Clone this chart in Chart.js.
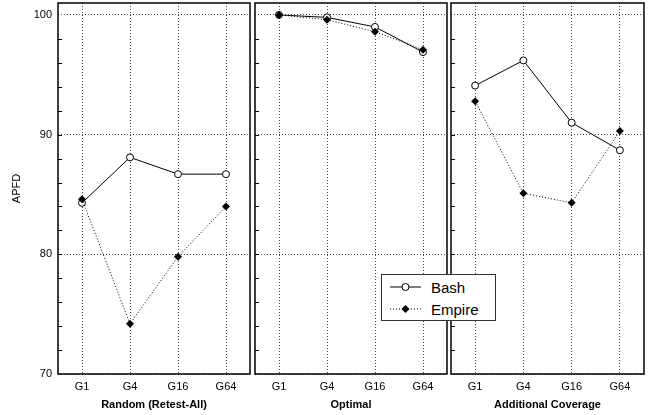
<!DOCTYPE html>
<html>
<head>
<meta charset="utf-8">
<script src="https://cdn.jsdelivr.net/npm/chart.js@4.4.0/dist/chart.umd.min.js"></script>
<style>
  html, body { margin: 0; padding: 0; background: #fff; }
  #wrap { position: relative; width: 652px; height: 415px; font-family: "Liberation Sans", Arial, sans-serif; }
  #wrap canvas { position: absolute; top: 0; }
  #legend { position: absolute; left: 381px; top: 274px; width: 113px; height: 45px; border: 1px solid #333; background: #fff; z-index: 5; }
  #legend .row { position: absolute; left: 0; height: 20px; display: flex; align-items: center; font-size: 15px; color: #000; }
  #legend svg { margin-left: 8px; margin-right: 10px; }
</style>
</head>
<body>
<div id="wrap">
  <canvas id="random" width="252" height="415" style="left:0;width:252px;height:415px"></canvas>
  <canvas id="optimal" width="196" height="415" style="left:253px;width:196px;height:415px"></canvas>
  <canvas id="addl" width="203" height="415" style="left:449px;width:203px;height:415px"></canvas>
  <div id="legend">
    <div class="row" style="top:2px">
      <svg width="31" height="12"><line x1="0" y1="6" x2="31" y2="6" stroke="#000" stroke-width="1"/><circle cx="15.5" cy="6" r="3.5" fill="#fff" stroke="#000" stroke-width="1"/></svg><span>Bash</span>
    </div>
    <div class="row" style="top:24px">
      <svg width="31" height="12"><line x1="0" y1="6" x2="31" y2="6" stroke="#000" stroke-width="1" stroke-dasharray="1,2"/><polygon points="15.5,2 19.5,6 15.5,10 11.5,6" fill="#000"/></svg><span>Empire</span>
    </div>
  </div>
</div>
<script>
const groups = ["G1", "G4", "G16", "G64"];
const yTicks = [70, 80, 90, 100];
const minorTicks = [72, 74, 76, 78, 80, 82, 84, 86, 88, 90, 92, 94, 96, 98];

const bashRandom = [84.3, 88.1, 86.7, 86.7];
const empireRandom = [84.6, 74.2, 79.8, 84.0];
const bashOptimal = [100.0, 99.8, 99.0, 96.9];
const empireOptimal = [100.0, 99.6, 98.6, 97.1];
const bashAddl = [94.1, 96.2, 91.0, 88.7];
const empireAddl = [92.8, 85.1, 84.3, 90.3];

const font = "'Liberation Sans', Arial, sans-serif";

// box around the plot and the small inside ticks on the left edge
const framePlugin = {
  id: 'frame',
  beforeDatasetsDraw(chart) {
    const { ctx, chartArea: a } = chart;
    const y = chart.scales.y;
    ctx.save();
    ctx.strokeStyle = '#000';
    ctx.lineWidth = 1;
    minorTicks.forEach(v => {
      const py = Math.round(y.getPixelForValue(v)) + 0.5;
      ctx.beginPath();
      ctx.moveTo(a.left, py);
      ctx.lineTo(a.left + 4, py);
      ctx.stroke();
    });
    ctx.lineWidth = 1.5;
    ctx.strokeRect(a.left, a.top, a.right - a.left, a.bottom - a.top);
    ctx.restore();
  }
};

function noPad(s) {
  s.paddingTop = 0; s.paddingBottom = 0; s.paddingLeft = 0; s.paddingRight = 0;
}

function makeChart(id, bash, empire, title, first, pad) {
  return new Chart(document.getElementById(id), {
    type: 'line',
    data: {
      labels: groups,
      datasets: [
        {
          label: 'Bash', data: bash, order: 1,
          borderColor: '#000', borderWidth: 1, tension: 0,
          pointStyle: 'circle', pointRadius: 3.5, pointBorderWidth: 1,
          pointBackgroundColor: '#fff', pointBorderColor: '#000'
        },
        {
          label: 'Empire', data: empire, order: 0,
          borderColor: '#000', borderWidth: 1, borderDash: [1, 2], tension: 0,
          pointStyle: 'rectRot', pointRadius: 4, pointBorderWidth: 0,
          pointBackgroundColor: '#000', pointBorderColor: '#000'
        }
      ]
    },
    options: {
      responsive: false,
      animation: false,
      devicePixelRatio: 1,
      layout: { padding: pad, autoPadding: false },
      plugins: { legend: { display: false }, tooltip: { enabled: false } },
      scales: {
        x: {
          offset: true,
          grid: { offset: false, color: '#444', drawTicks: false },
          border: { display: false, dash: [1, 2] },
          ticks: { padding: 6, color: '#000', font: { family: font, size: 11 } },
          title: {
            display: true, text: title, color: '#000',
            font: { family: font, size: 11, weight: 'bold' },
            padding: { top: 4, bottom: 3 }
          },
          afterFit(s) { s.height = 41; noPad(s); }
        },
        y: {
          min: 70, max: 101,
          afterBuildTicks(s) { s.ticks = yTicks.map(v => ({ value: v })); },
          grid: { color: '#444', drawTicks: false },
          border: { display: false, dash: [1, 2] },
          ticks: { display: first, padding: 6, color: '#000', font: { family: font, size: 11 } },
          title: {
            display: first, text: 'APFD', color: '#000',
            font: { family: font, size: 11 },
            padding: { top: 10, bottom: 0 }
          },
          afterFit(s) { s.width = first ? 58 : 0; noPad(s); }
        }
      }
    },
    plugins: [framePlugin]
  });
}

makeChart('random', bashRandom, empireRandom, 'Random (Retest-All)', true, { top: 3, right: 2, left: 0, bottom: 0 });
makeChart('optimal', bashOptimal, empireOptimal, 'Optimal', false, { top: 3, right: 2, left: 2, bottom: 0 });
makeChart('addl', bashAddl, empireAddl, 'Additional Coverage', false, { top: 3, right: 8, left: 2, bottom: 0 });
</script>
</body>
</html>
